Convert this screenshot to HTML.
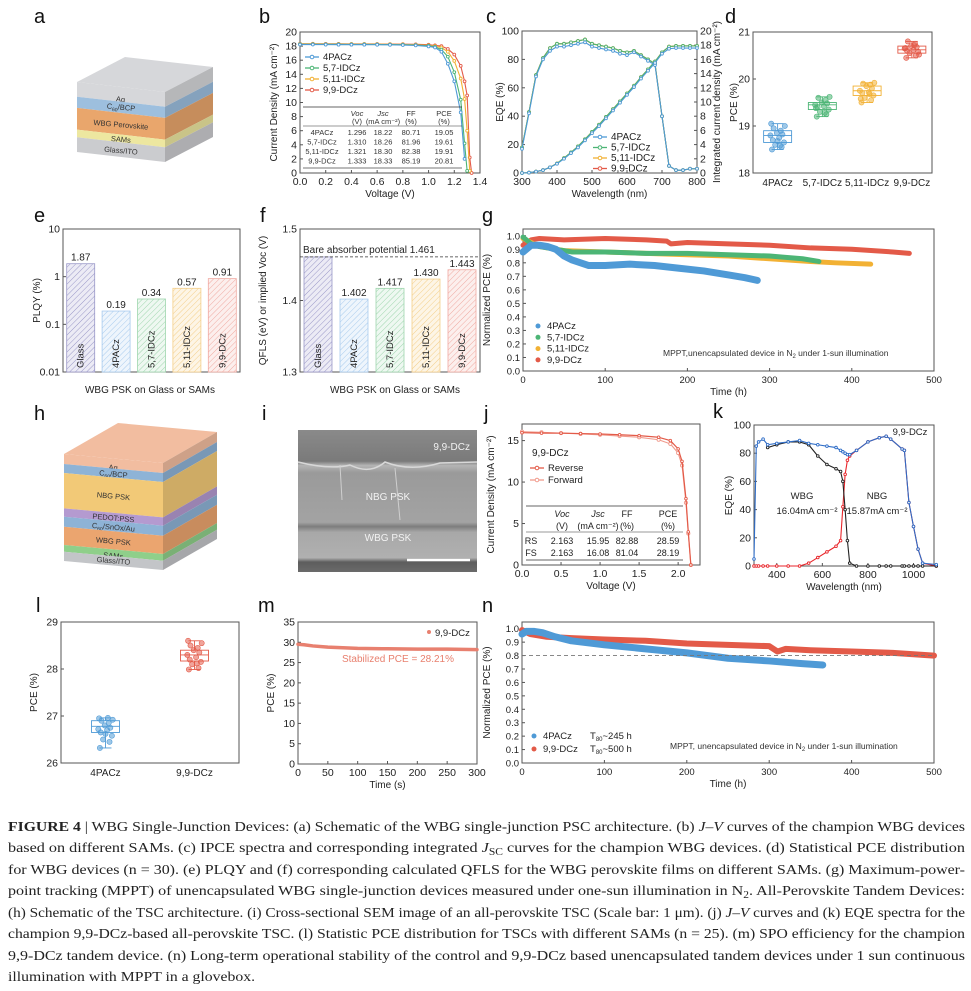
<!DOCTYPE html>
<html><head><meta charset="utf-8">
<style>
html,body{margin:0;padding:0;background:#fff;}
svg{display:block;font-family:"Liberation Sans",sans-serif;}
.cap{font-family:"Liberation Serif",serif;font-size:14px;fill:#222;}
</style></head>
<body>
<svg id="fig" width="971" height="991" viewBox="0 0 971 991" xmlns="http://www.w3.org/2000/svg">
<defs>
<pattern id="hp" width="4" height="4" patternUnits="userSpaceOnUse" patternTransform="rotate(45)"><rect width="4" height="4" fill="#ecebf5"/><line x1="0" y1="0" x2="0" y2="4" stroke="#9a98c8" stroke-width="1"/></pattern>
<pattern id="hb" width="4" height="4" patternUnits="userSpaceOnUse" patternTransform="rotate(45)"><rect width="4" height="4" fill="#eef5fc"/><line x1="0" y1="0" x2="0" y2="4" stroke="#a8cbee" stroke-width="1"/></pattern>
<pattern id="hg" width="4" height="4" patternUnits="userSpaceOnUse" patternTransform="rotate(45)"><rect width="4" height="4" fill="#eef8f1"/><line x1="0" y1="0" x2="0" y2="4" stroke="#9fd6ae" stroke-width="1"/></pattern>
<pattern id="ho" width="4" height="4" patternUnits="userSpaceOnUse" patternTransform="rotate(45)"><rect width="4" height="4" fill="#fdf5e6"/><line x1="0" y1="0" x2="0" y2="4" stroke="#f4cf8a" stroke-width="1"/></pattern>
<pattern id="hr" width="4" height="4" patternUnits="userSpaceOnUse" patternTransform="rotate(45)"><rect width="4" height="4" fill="#fcefed"/><line x1="0" y1="0" x2="0" y2="4" stroke="#f0aaa2" stroke-width="1"/></pattern>
<linearGradient id="semg" x1="0" y1="0" x2="0" y2="1">
<stop offset="0" stop-color="#8a8a8a"/><stop offset="0.22" stop-color="#7a7a7a"/><stop offset="0.25" stop-color="#b5b5b5"/><stop offset="0.3" stop-color="#9a9a9a"/><stop offset="0.65" stop-color="#a3a3a3"/><stop offset="0.68" stop-color="#7d7d7d"/><stop offset="0.72" stop-color="#a8a8a8"/><stop offset="0.9" stop-color="#b0b0b0"/><stop offset="0.93" stop-color="#5d5d5d"/><stop offset="1" stop-color="#6a6a6a"/></linearGradient>
</defs>

<!-- panel letters -->
<g font-size="20" fill="#111">
<text x="34" y="23">a</text><text x="259" y="23">b</text><text x="486" y="23">c</text><text x="725" y="23">d</text>
<text x="34" y="222">e</text><text x="260" y="222">f</text><text x="482" y="222">g</text>
<text x="34" y="420">h</text><text x="262" y="420">i</text><text x="484" y="420">j</text><text x="713" y="418">k</text>
<text x="36" y="612">l</text><text x="258" y="612">m</text><text x="482" y="612">n</text>
</g>

<!-- SEM image panel i -->
<g>
<rect x="298" y="430" width="179" height="142" fill="url(#semg)"/>
<path d="M298 462 Q330 470 350 465 Q370 475 385 462 Q410 472 440 463 L477 462" stroke="#d8d8d8" stroke-width="1.5" fill="none"/>
<path d="M340 465 L342 500 M395 468 L400 520" stroke="#cfcfcf" stroke-width="1" fill="none"/>
<text x="470" y="450" text-anchor="end" font-size="10" fill="#f2f2f2">9,9-DCz</text>
<text x="388" y="500" text-anchor="middle" font-size="10" fill="#f2f2f2">NBG PSK</text>
<text x="388" y="541" text-anchor="middle" font-size="10" fill="#f2f2f2">WBG PSK</text>
<line x1="407" y1="560" x2="470" y2="560" stroke="#fff" stroke-width="2.5"/>
</g>

<g id="charts"></g>

<g>
<text class="cap" x="8" y="831" textLength="957" lengthAdjust="spacingAndGlyphs"><tspan font-weight="bold">FIGURE  4</tspan>  |  WBG Single-Junction Devices: (a) Schematic of the WBG single-junction PSC architecture. (b) <tspan font-style="italic">J–V</tspan> curves of the champion WBG devices</text>
<text class="cap" x="8" y="852" textLength="957" lengthAdjust="spacingAndGlyphs">based on different SAMs. (c) IPCE spectra and corresponding integrated <tspan font-style="italic">J</tspan><tspan font-size="10" dy="3">SC</tspan><tspan dy="-3"> curves for the champion WBG devices. (d) Statistical PCE distribution</tspan></text>
<text class="cap" x="8" y="874" textLength="957" lengthAdjust="spacingAndGlyphs">for WBG devices (n = 30). (e) PLQY and (f) corresponding calculated QFLS for the WBG perovskite films on different SAMs. (g) Maximum-power-</text>
<text class="cap" x="8" y="895" textLength="957" lengthAdjust="spacingAndGlyphs">point tracking (MPPT) of unencapsulated WBG single-junction devices measured under one-sun illumination in N<tspan font-size="10" dy="3">2</tspan><tspan dy="-3">. All-Perovskite Tandem Devices:</tspan></text>
<text class="cap" x="8" y="917" textLength="957" lengthAdjust="spacingAndGlyphs">(h) Schematic of the TSC architecture. (i) Cross-sectional SEM image of an all-perovskite TSC (Scale bar: 1 μm). (j) <tspan font-style="italic">J–V</tspan> curves and (k) EQE spectra for the</text>
<text class="cap" x="8" y="938" textLength="957" lengthAdjust="spacingAndGlyphs">champion 9,9-DCz-based all-perovskite TSC. (l) Statistic PCE distribution for TSCs with different SAMs (n = 25). (m) SPO efficiency for the champion</text>
<text class="cap" x="8" y="960" textLength="957" lengthAdjust="spacingAndGlyphs">9,9-DCz tandem device. (n) Long-term operational stability of the control and 9,9-DCz based unencapsulated tandem devices under 1 sun continuous</text>
<text class="cap" x="8" y="981" textLength="247" lengthAdjust="spacingAndGlyphs">illumination with MPPT in a glovebox.</text>
</g>
</svg>

<script>
// ---------- data ----------
const seriesNames = ['4PACz','5,7-IDCz','5,11-IDCz','9,9-DCz'];
// (b) J-V
const jvV = [0,0.1,0.2,0.3,0.4,0.5,0.6,0.7,0.8,0.9,1.0,1.05,1.1,1.15,1.2,1.25,1.28,1.3,1.32,1.335];
const jv4PACz = [18.22,18.22,18.21,18.2,18.2,18.2,18.19,18.18,18.15,18.1,17.95,17.8,17.2,15.5,13.0,8.6,2.0,null,null,null];
const jv57 = [18.26,18.26,18.25,18.25,18.24,18.24,18.23,18.22,18.2,18.15,18.05,17.9,17.5,16.5,14.3,10.4,4.2,0.3,null,null];
const jv511 = [18.3,18.3,18.29,18.29,18.28,18.28,18.27,18.26,18.24,18.2,18.1,18.0,17.8,17.2,15.9,13.4,10.5,6.0,0.3,null];
const jv99 = [18.33,18.33,18.32,18.32,18.31,18.31,18.3,18.29,18.28,18.25,18.2,18.1,18.0,17.6,16.8,15.2,13.0,11.0,2.2,0];
// (c) EQE
const wl = [300,320,340,360,380,400,420,440,460,480,500,520,540,560,580,600,620,640,660,680,700,720,740,760,780,800];
const eqe4PACz = [17,42,68,80,86,89,89,90,91,92,89,88,87,86,84,83,85,82,79,76,40,5,2,2,3,3];
const eqe99 = [18,43,69,81,88,91,91,92,93,94,91,90,89,88,86,85,86,83,80,77,40,5,2,2,3,3];
const jint4PACz = [0,0.05,0.2,0.4,0.8,1.3,2.0,2.8,3.6,4.6,5.6,6.6,7.7,8.8,9.9,11.0,12.1,13.3,14.4,15.5,16.8,17.5,17.6,17.6,17.6,17.6];
const jint99 = [0,0.05,0.2,0.4,0.8,1.35,2.1,2.9,3.75,4.75,5.8,6.8,7.9,9.0,10.1,11.2,12.3,13.5,14.6,15.7,17.0,17.8,17.9,17.9,17.9,17.9];
// (d) PCE stats [min,q1,median,q3,max]
const dStats = [[18.5,18.65,18.8,18.9,19.05],[19.2,19.35,19.45,19.5,19.62],[19.5,19.65,19.75,19.85,19.92],[20.45,20.55,20.62,20.7,20.8]];
const dPoints = [[18.5,18.55,18.6,18.65,18.7,18.75,18.8,18.82,18.85,18.9,18.95,19.0,19.05,18.58,18.68],
 [19.2,19.25,19.3,19.35,19.4,19.42,19.45,19.48,19.5,19.55,19.6,19.62,19.38,19.28],
 [19.5,19.55,19.6,19.65,19.7,19.72,19.75,19.8,19.85,19.88,19.9,19.92,19.58,19.68],
 [20.45,20.5,20.55,20.58,20.6,20.62,20.65,20.68,20.7,20.75,20.8,20.52,20.66,20.72]];
// (e) PLQY, (f) QFLS
const filmNames = ['Glass','4PACz','5,7-IDCz','5,11-IDCz','9,9-DCz'];
const plqy = [1.87,0.19,0.34,0.57,0.91];
const qfls = [1.461,1.402,1.417,1.430,1.443];
// (g) MPPT single junction
const g4t = [0,10,20,30,40,50,60,80,100,130,160,190,220,250,270,285];
const g4v = [0.88,0.93,0.93,0.92,0.9,0.85,0.82,0.78,0.78,0.79,0.78,0.76,0.74,0.71,0.69,0.67];
const g57t = [0,10,20,40,60,100,150,200,250,300,340,360];
const g57v = [0.99,0.94,0.92,0.9,0.88,0.88,0.87,0.87,0.86,0.85,0.83,0.81];
const g511t = [0,20,50,100,150,200,250,300,350,380,423];
const g511v = [0.98,0.92,0.89,0.88,0.87,0.86,0.85,0.83,0.81,0.8,0.79];
const g99t = [0,10,20,50,100,150,175,180,200,250,300,350,400,450,470];
const g99v = [0.93,0.97,0.98,0.97,0.98,0.97,0.96,0.94,0.95,0.94,0.93,0.91,0.9,0.88,0.87];
// (j) tandem J-V
const jV = [0,0.25,0.5,0.75,1.0,1.25,1.5,1.75,1.9,2.0,2.05,2.1,2.13,2.163];
const jRev = [15.95,15.9,15.9,15.85,15.8,15.7,15.6,15.4,15.0,14.0,12.5,8.0,4.0,0];
const jFwd = [16.08,16.0,15.9,15.8,15.7,15.55,15.4,15.1,14.6,13.5,12.0,7.5,3.8,0];
// (k) tandem EQE
const kWl = [300,310,320,340,360,400,450,500,540,580,620,660,680,690,700,710,720,750,800,850,880,900,950,960,980,1000,1020,1040,1100];
const kTotal = [5,85,88,90,86,87,88,89,87,86,85,84,82,81,80,79,79,82,88,91,92,90,83,82,45,28,12,2,1];
const kWbg = [null,null,null,null,84,86,88,88,86,78,72,69,67,60,40,18,2,0,0,0,0,0,0,0,0,0,0,0,0];
const kNbg = [0,0,0,0,0,0,0,0,2,6,10,14,18,42,65,75,78,82,88,91,92,90,83,82,45,28,12,2,0];
// (l) tandem PCE stats
const lStats = [[26.32,26.65,26.78,26.9,26.96],[27.99,28.17,28.3,28.4,28.6]];
const lPoints = [[26.32,26.45,26.5,26.58,26.65,26.7,26.72,26.75,26.8,26.85,26.9,26.92,26.95,26.96,26.62],
 [27.99,28.02,28.1,28.15,28.2,28.25,28.3,28.35,28.4,28.45,28.5,28.55,28.6,28.12]];
// (m) SPO
const mT = [0,10,25,50,100,150,200,250,300];
const mPce = [29.5,29.4,29.1,28.8,28.5,28.4,28.3,28.3,28.2];
// (n) tandem stability
const n4t = [0,5,15,25,40,60,100,150,200,250,300,340,365];
const n4v = [0.96,0.98,0.98,0.97,0.94,0.91,0.88,0.85,0.82,0.78,0.76,0.74,0.73];
const n99t = [0,10,30,60,100,150,200,250,300,310,320,350,400,450,500];
const n99v = [0.99,0.96,0.94,0.93,0.92,0.91,0.89,0.88,0.87,0.83,0.85,0.84,0.83,0.82,0.80];

const C = {b:'#4f9ad6', g:'#4cb575', o:'#f2b134', r:'#e35a48'};
const NS='http://www.w3.org/2000/svg';
const root=document.getElementById('charts');
function mk(tag,attrs,parent,txt){const e=document.createElementNS(NS,tag);for(const k in attrs)e.setAttribute(k,attrs[k]);if(txt!==undefined)e.textContent=txt;(parent||root).appendChild(e);return e;}
function lin(d0,d1,p0,p1){return v=>p0+(v-d0)*(p1-p0)/(d1-d0);}
function logs(d0,d1,p0,p1){return v=>p0+(Math.log10(v)-Math.log10(d0))*(p1-p0)/(Math.log10(d1)-Math.log10(d0));}

function axes(o){
  const g=mk('g',{});
  
  
  const sx=o.xlog?logs(o.xmin,o.xmax,o.l,o.r):lin(o.xmin,o.xmax,o.l,o.r);
  const sy=o.ylog?logs(o.ymin,o.ymax,o.b,o.t):lin(o.ymin,o.ymax,o.b,o.t);
  const fr=mk('rect',{x:o.l,y:o.t,width:o.r-o.l,height:o.b-o.t,fill:'none',stroke:'#555','stroke-width':1},g);
  
  if(o.xt) o.xt.forEach((v,i)=>{const x=sx(v);mk('line',{x1:x,y1:o.b,x2:x,y2:o.b-3,stroke:'#555'},g);
    const t=mk('text',{x:x,y:o.b+12,'text-anchor':'middle','font-size':o.fs||10.5,fill:'#222'},g,o.xl?o.xl[i]:v);
    });
  if(o.yt) o.yt.forEach((v,i)=>{const y=sy(v);mk('line',{x1:o.l,y1:y,x2:o.l+3,y2:y,stroke:'#555'},g);
    const t=mk('text',{x:o.l-3,y:y+3.5,'text-anchor':'end','font-size':o.fs||10.5,fill:'#222'},g,o.yl?o.yl[i]:v);
    });
  if(o.xtitle){const t=mk('text',{x:(o.l+o.r)/2,y:o.b+24,'text-anchor':'middle','font-size':10,fill:'#222'},g,o.xtitle);
    }
  if(o.ytitle){const cx=o.ytx, cy=(o.t+o.b)/2;const t=mk('text',{x:cx,y:cy,'text-anchor':'middle','font-size':10,fill:'#222',transform:`rotate(-90 ${cx} ${cy})`},g,o.ytitle);
    }
  return {sx,sy,g};
}
function poly(ax,xs,ys,color,sw,name,marker){
  const pts=[];xs.forEach((x,i)=>{if(ys[i]!==null)pts.push([ax.sx(x),ax.sy(ys[i])]);});
  const p=mk('polyline',{points:pts.map(p=>p.join(',')).join(' '),fill:'none',stroke:color,'stroke-width':sw,'stroke-linejoin':'round','stroke-linecap':'round'});
  
  
  if(marker) pts.forEach(q=>{const c=mk('circle',{cx:q[0],cy:q[1],r:marker,fill:'#fff',stroke:color,'stroke-width':0.9});
    });
}
function legLine(x,y,color,label,fs,dot){
  if(dot){mk('circle',{cx:x+6,cy:y-3,r:2.5,fill:color});}
  else{mk('line',{x1:x,y1:y-3,x2:x+14,y2:y-3,stroke:color,'stroke-width':1.3});mk('circle',{cx:x+7,cy:y-3,r:1.8,fill:'#fff',stroke:color});}
  const t=mk('text',{x:x+(dot?15:18),y:y,'font-size':fs||10,fill:'#222'},root,label);
  
}
function boxes(ax,cats,stats,points,colors,name){
  const jit=[-7,5,-3,8,-6,2,-9,6,-1,4,-5,9,-8,3,0];
  stats.forEach((s,i)=>{const x=ax.sx(i);const w=14;
    const b=mk('rect',{x:x-w,y:ax.sy(s[3]),width:2*w,height:ax.sy(s[1])-ax.sy(s[3]),fill:'none',stroke:colors[i],'stroke-width':0.9});
    
    mk('line',{x1:x-w,x2:x+w,y1:ax.sy(s[2]),y2:ax.sy(s[2]),stroke:colors[i],'stroke-width':0.9});
    mk('line',{x1:x,x2:x,y1:ax.sy(s[0]),y2:ax.sy(s[1]),stroke:colors[i],'stroke-width':0.9});
    mk('line',{x1:x,x2:x,y1:ax.sy(s[3]),y2:ax.sy(s[4]),stroke:colors[i],'stroke-width':0.9});
    mk('line',{x1:x-6,x2:x+6,y1:ax.sy(s[0]),y2:ax.sy(s[0]),stroke:colors[i],'stroke-width':0.9});
    mk('line',{x1:x-6,x2:x+6,y1:ax.sy(s[4]),y2:ax.sy(s[4]),stroke:colors[i],'stroke-width':0.9});
    points[i].forEach((v,j)=>{const c=mk('circle',{cx:x+jit[j%jit.length]*0.8,cy:ax.sy(v),r:2.6,fill:colors[i],'fill-opacity':0.55,stroke:colors[i],'stroke-width':0.6});
      });
  });
}
function cube(o){
  // o: x0,y0 front top-left, w, h, dy (front slope), bx,by back vector, layers [frac,color,label]
  const g=mk('g',{});
  
  
  const shade=(c,f)=>{const n=parseInt(c.slice(1),16);const r=Math.round(((n>>16)&255)*f),gg=Math.round(((n>>8)&255)*f),b=Math.round((n&255)*f);return `rgb(${r},${gg},${b})`;};
  let y=0;
  mk('polygon',{points:`${o.x0},${o.y0} ${o.x0+o.bx},${o.y0+o.by} ${o.x0+o.w+o.bx},${o.y0+o.dy+o.by} ${o.x0+o.w},${o.y0+o.dy}`,fill:o.top},g);
  o.layers.forEach(L=>{const h=L[0]*o.h;const y1=o.y0+y, y2=y1+h;
    mk('polygon',{points:`${o.x0},${y1} ${o.x0+o.w},${y1+o.dy} ${o.x0+o.w},${y2+o.dy} ${o.x0},${y2}`,fill:L[1]},g);
    mk('polygon',{points:`${o.x0+o.w},${y1+o.dy} ${o.x0+o.w+o.bx},${y1+o.dy+o.by} ${o.x0+o.w+o.bx},${y2+o.dy+o.by} ${o.x0+o.w},${y2+o.dy}`,fill:shade(L[1],0.85)},g);
    if(L[2]){const t=mk('text',{x:o.x0+o.w/2,y:(y1+y2)/2+o.dy/2+3.5+(L[3]||0),'text-anchor':'middle','font-size':o.fs,fill:'#333',transform:`rotate(5 ${o.x0+o.w/2} ${(y1+y2)/2+o.dy/2})`},g);
      t.innerHTML=L[2];
      }
    y+=h;});
}

// (a) cube
cube({name:'wbg-device-schematic',x0:77,y0:82,w:88,h:70,dy:10,bx:48,by:-25,top:'#d6d7da',fs:7.5,
 layers:[[0.21,'#d6d7da','Ag',4],[0.16,'#9dbfde','C<tspan font-size="5" dy="2">60</tspan><tspan dy="-2">/BCP</tspan>',-1],[0.31,'#e9a66c','WBG Perovskite'],[0.11,'#ede7a0','SAMs'],[0.21,'#cbcccf','Glass/ITO']]});
// (h) cube
cube({name:'tandem-device-schematic',x0:64,y0:454,w:99,h:107,dy:9,bx:54,by:-31,top:'#f2bda0',fs:7.5,
 layers:[[0.094,'#f2bda0','Ag',3],[0.084,'#8eb3d6','C<tspan font-size="5" dy="2">60</tspan><tspan dy="-2">/BCP</tspan>'],[0.33,'#f2c977','NBG PSK'],[0.078,'#b49ad0','PEDOT:PSS'],[0.094,'#8eb3d6','C<tspan font-size="5" dy="2">60</tspan><tspan dy="-2">/SnOx/Au</tspan>'],[0.17,'#eba56f','WBG PSK'],[0.063,'#8fcf8a','SAMs',2],[0.087,'#c3c5c8','Glass/ITO',-1]]});

// (b)
(function(){
 const ax=axes({name:'jv-wbg',l:300,r:480,t:32,b:173,xmin:0,xmax:1.4,ymin:0,ymax:20,
  xt:[0,0.2,0.4,0.6,0.8,1.0,1.2,1.4],xl:['0.0','0.2','0.4','0.6','0.8','1.0','1.2','1.4'],yt:[0,2,4,6,8,10,12,14,16,18,20],
  xtitle:'Voltage (V)',ytitle:'Current Density (mA cm⁻²)',ytx:277});
 const ser=[jv4PACz,jv57,jv511,jv99],cols=[C.b,C.g,C.o,C.r];
 [3,2,1,0].forEach(i=>poly(ax,jvV,ser[i],cols[i],1.1,'jv-curve-'+seriesNames[i],1.4));
 seriesNames.forEach((n,i)=>legLine(305,60+i*11,cols[i],n,9.5));
 const tg=mk('g',{'font-size':7.5,fill:'#333'});
 
 mk('line',{x1:303,x2:462,y1:107,y2:107,stroke:'#333','stroke-width':0.8},tg);
 mk('line',{x1:303,x2:462,y1:126,y2:126,stroke:'#333','stroke-width':0.6},tg);
 mk('line',{x1:303,x2:462,y1:168,y2:168,stroke:'#777','stroke-width':1},tg);
 const cx=[322,357,383,411,444];
 const hdr1=['','V_OC','J_SC','FF','PCE'],hdr2=['','(V)','(mA cm⁻²)','(%)','(%)'];
 hdr1.forEach((h,i)=>{if(h)mk('text',{x:cx[i],y:116,'text-anchor':'middle','font-style':i<3?'italic':'normal'},tg,h.replace('_OC','oc').replace('_SC','sc'));});
 hdr2.forEach((h,i)=>{if(h)mk('text',{x:cx[i],y:124,'text-anchor':'middle'},tg,h);});
 const rows=[['4PACz','1.296','18.22','80.71','19.05'],['5,7-IDCz','1.310','18.26','81.96','19.61'],['5,11-IDCz','1.321','18.30','82.38','19.91'],['9,9-DCz','1.333','18.33','85.19','20.81']];
 rows.forEach((r,j)=>r.forEach((v,i)=>mk('text',{x:cx[i],y:135+j*9.5,'text-anchor':'middle'},tg,v)));
})();

// (c)
(function(){
 const ax=axes({name:'eqe-wbg',l:522,r:697,t:31,b:173,xmin:300,xmax:800,ymin:0,ymax:100,
  xt:[300,400,500,600,700,800],yt:[0,20,40,60,80,100],xtitle:'Wavelength (nm)',ytitle:'EQE (%)',ytx:503});
 const ry=lin(0,20,173,31);
 [0,2,4,6,8,10,12,14,16,18,20].forEach(v=>{mk('line',{x1:697,x2:694,y1:ry(v),y2:ry(v),stroke:'#555'});
  const t=mk('text',{x:700,y:ry(v)+3.5,'font-size':10.5,fill:'#222'},root,v);});
 const rt=mk('text',{x:720,y:102,'text-anchor':'middle','font-size':10,fill:'#222',transform:'rotate(-90 720 102)'},root,'Integrated current density (mA cm⁻²)');
 
 const cols=[C.b,C.g,C.o,C.r];
 const eq=[eqe4PACz,eqe99,eqe99,eqe99],ji=[jint4PACz,jint99,jint99,jint99];
 const sc=j=>j.map(v=>v*5);
 [3,2,1,0].forEach(i=>{poly(ax,wl,eq[i],cols[i],1.1,'eqe-curve-'+seriesNames[i],1.4);poly(ax,wl,sc(ji[i]),cols[i],1.1,'jint-curve-'+seriesNames[i],1.4);});
 seriesNames.forEach((n,i)=>legLine(593,140+i*10.5,cols[i],n,10));
})();

// (d)
(function(){
 const ax=axes({name:'pce-wbg',l:753,r:932,t:32,b:173,xmin:-0.55,xmax:3.45,ymin:18,ymax:21,yt:[18,19,20,21],ytitle:'PCE (%)',ytx:737});
 seriesNames.forEach((n,i)=>{const t=mk('text',{x:ax.sx(i),y:186,'text-anchor':'middle','font-size':10,fill:'#222'},root,n);});
 boxes(ax,seriesNames,dStats,dPoints,[C.b,C.g,C.o,C.r],'pce-wbg');
})();

// (e) & (f)
const pats=['url(#hp)','url(#hb)','url(#hg)','url(#ho)','url(#hr)'],edge=['#9a98c8','#a8cbee','#9fd6ae','#f4cf8a','#f0aaa2'];
(function(){
 const ax=axes({name:'plqy',l:63,r:240,t:229,b:372,xmin:-0.5,xmax:4.5,ymin:0.01,ymax:10,ylog:true,yt:[0.01,0.1,1,10],ytitle:'PLQY (%)',ytx:40});
 plqy.forEach((v,i)=>{const x=ax.sx(i);const b=mk('rect',{x:x-14,y:ax.sy(v),width:28,height:372-ax.sy(v),fill:pats[i],stroke:edge[i],'stroke-width':0.8});
  
  mk('text',{x:x,y:ax.sy(v)-3,'text-anchor':'middle','font-size':10,fill:'#222'},root,v.toFixed(2));
  mk('text',{x:x+3,y:368,'font-size':9.5,fill:'#222',transform:`rotate(-90 ${x+3} 368)`},root,filmNames[i]);});
 mk('text',{x:150,y:393,'text-anchor':'middle','font-size':10,fill:'#222'},root,'WBG PSK on Glass or SAMs');
})();
(function(){
 const ax=axes({name:'qfls',l:300,r:480,t:229,b:372,xmin:-0.5,xmax:4.5,ymin:1.3,ymax:1.5,yt:[1.3,1.4,1.5],yl:['1.3','1.4','1.5'],ytitle:'QFLS (eV) or implied Voc (V)',ytx:266});
 qfls.forEach((v,i)=>{const x=ax.sx(i);const b=mk('rect',{x:x-14,y:ax.sy(v),width:28,height:372-ax.sy(v),fill:pats[i],stroke:edge[i],'stroke-width':0.8});
  
  if(i>0)mk('text',{x:x,y:ax.sy(v)-3,'text-anchor':'middle','font-size':10,fill:'#222'},root,v.toFixed(3));
  mk('text',{x:x+3,y:368,'font-size':9.5,fill:'#222',transform:`rotate(-90 ${x+3} 368)`},root,filmNames[i]);});
 const y=ax.sy(qfls[0]);
 const dl=mk('line',{x1:300,x2:480,y1:y,y2:y,stroke:'#333','stroke-dasharray':'3,2','stroke-width':0.8});
 
 mk('text',{x:303,y:y-4,'font-size':10,fill:'#222'},root,'Bare absorber potential '+qfls[0].toFixed(3));
 mk('text',{x:395,y:393,'text-anchor':'middle','font-size':10,fill:'#222'},root,'WBG PSK on Glass or SAMs');
})();

// (g)
(function(){
 const ax=axes({name:'mppt-wbg',l:523,r:934,t:229,b:371,xmin:0,xmax:500,ymin:0,ymax:1.05,
  xt:[0,100,200,300,400,500],yt:[0,0.1,0.2,0.3,0.4,0.5,0.6,0.7,0.8,0.9,1.0],yl:['0.0','0.1','0.2','0.3','0.4','0.5','0.6','0.7','0.8','0.9','1.0'],fs:9.5,xtitle:'Time (h)',ytitle:'Normalized PCE (%)',ytx:490});
 const cols=[C.b,C.g,C.o,C.r];const T=[g4t,g57t,g511t,g99t],V=[g4v,g57v,g511v,g99v];
 [3,2,1,0].forEach(i=>poly(ax,T[i],V[i],cols[i],i==0?7:5,'mppt-wbg-'+seriesNames[i]));
 seriesNames.forEach((n,i)=>legLine(532,329+i*11.3,cols[i],n,9.5,true));
 const t=mk('text',{x:663,y:356,'font-size':8.5,fill:'#333'},root);t.innerHTML='MPPT,unencapsulated device in N<tspan font-size="6" dy="2">2</tspan><tspan dy="-2"> under 1-sun illumination</tspan>';
})();

// (j)
(function(){
 const ax=axes({name:'jv-tandem',l:522,r:700,t:424,b:565,xmin:0,xmax:2.28,ymin:0,ymax:17,
  xt:[0,0.5,1.0,1.5,2.0],xl:['0.0','0.5','1.0','1.5','2.0'],yt:[0,5,10,15],xtitle:'Voltage (V)',ytitle:'Current Density (mA cm⁻²)',ytx:494});
 poly(ax,jV,jFwd,'#f09a8c',1.1,'jv-forward',1.6);
 poly(ax,jV,jRev,C.r,1.2,'jv-reverse',1.3);
 mk('text',{x:532,y:456,'font-size':10,fill:'#222'},root,'9,9-DCz');
 legLine(530,471,C.r,'Reverse',9.5);legLine(530,483,'#f09a8c','Forward',9.5);
 const tg=mk('g',{'font-size':9,fill:'#222'});
 mk('line',{x1:526,x2:683,y1:506,y2:506,stroke:'#333','stroke-width':0.8},tg);
 mk('line',{x1:526,x2:683,y1:532,y2:532,stroke:'#333','stroke-width':0.6},tg);
 mk('line',{x1:526,x2:683,y1:560,y2:560,stroke:'#333','stroke-width':0.8},tg);
 const cx=[531,562,598,627,668];
 ['','Voc','Jsc','FF','PCE'].forEach((h,i)=>{if(h)mk('text',{x:cx[i],y:517,'text-anchor':'middle','font-style':i<3?'italic':'normal'},tg,h);});
 ['','(V)','(mA cm⁻²)','(%)','(%)'].forEach((h,i)=>{if(h)mk('text',{x:cx[i],y:529,'text-anchor':'middle'},tg,h);});
 [['RS','2.163','15.95','82.88','28.59'],['FS','2.163','16.08','81.04','28.19']].forEach((r,j)=>r.forEach((v,i)=>mk('text',{x:cx[i],y:544+j*12,'text-anchor':'middle'},tg,v)));
})();

// (k)
(function(){
 const ax=axes({name:'eqe-tandem',l:754,r:934,t:425,b:566,xmin:300,xmax:1090,ymin:0,ymax:100,
  xt:[400,600,800,1000],yt:[0,20,40,60,80,100],xtitle:'Wavelength (nm)',ytitle:'EQE (%)',ytx:732});
 poly(ax,kWl,kNbg,'#e8262b',1.1,'eqe-nbg',1.3);
 poly(ax,kWl,kWbg,'#222',1.1,'eqe-wbg',1.3);
 poly(ax,kWl,kTotal,'#2f6dc7',1.1,'eqe-total',1.3);
 const t=[['WBG',802,499],['16.04mA cm⁻²',807,514],['NBG',877,499],['15.87mA cm⁻²',877,514],['9,9-DCz',910,435]];
 t.forEach(a=>mk('text',{x:a[1],y:a[2],'text-anchor':'middle','font-size':9.5,fill:'#222'},root,a[0]));
})();

// (l)
(function(){
 const ax=axes({name:'pce-tandem',l:61,r:239,t:622,b:763,xmin:-0.5,xmax:1.5,ymin:26,ymax:29,yt:[26,27,28,29],ytitle:'PCE (%)',ytx:37});
 ['4PACz','9,9-DCz'].forEach((n,i)=>{const t=mk('text',{x:ax.sx(i),y:776,'text-anchor':'middle','font-size':10,fill:'#222'},root,n);});
 boxes(ax,['4PACz','9,9-DCz'],lStats,lPoints,[C.b,C.r],'pce-tandem');
})();

// (m)
(function(){
 const ax=axes({name:'spo',l:298,r:477,t:622,b:764,xmin:0,xmax:300,ymin:0,ymax:35,
  xt:[0,50,100,150,200,250,300],yt:[0,5,10,15,20,25,30,35],xtitle:'Time (s)',ytitle:'PCE (%)',ytx:274});
 poly(ax,mT,mPce,'#e8806f',3.5,'spo-curve');
 mk('circle',{cx:429,cy:632,r:2,fill:'#e8806f'});
 mk('text',{x:435,y:636,'font-size':9.5,fill:'#222'},root,'9,9-DCz');
 mk('text',{x:398,y:662,'text-anchor':'middle','font-size':10,fill:'#e8806f'},root,'Stabilized PCE = 28.21%');
})();

// (n)
(function(){
 const ax=axes({name:'stability-tandem',l:522,r:934,t:622,b:763,xmin:0,xmax:500,ymin:0,ymax:1.05,
  xt:[0,100,200,300,400,500],yt:[0,0.1,0.2,0.3,0.4,0.5,0.6,0.7,0.8,0.9,1.0],yl:['0.0','0.1','0.2','0.3','0.4','0.5','0.6','0.7','0.8','0.9','1.0'],fs:9.5,xtitle:'Time (h)',ytitle:'Normalized PCE (%)',ytx:490});
 poly(ax,n99t,n99v,C.r,6,'stability-9,9-DCz');
 poly(ax,n4t,n4v,C.b,7,'stability-4PACz');
 const dl=mk('line',{x1:522,x2:934,y1:ax.sy(0.8),y2:ax.sy(0.8),stroke:'#777','stroke-dasharray':'4,3','stroke-width':0.9});
 
 legLine(528,739,C.b,'4PACz',9.5,true);legLine(528,752,C.r,'9,9-DCz',9.5,true);
 let t=mk('text',{x:590,y:739,'font-size':9.5,fill:'#222'},root);t.innerHTML='T<tspan font-size="6" dy="2">80</tspan><tspan dy="-2">~245 h</tspan>';
 t=mk('text',{x:590,y:752,'font-size':9.5,fill:'#222'},root);t.innerHTML='T<tspan font-size="6" dy="2">80</tspan><tspan dy="-2">~500 h</tspan>';
 t=mk('text',{x:670,y:749,'font-size':8.5,fill:'#333'},root);t.innerHTML='MPPT, unencapsulated device in N<tspan font-size="6" dy="2">2</tspan><tspan dy="-2"> under 1-sun illumination</tspan>';
})();
</script>
</body></html>
